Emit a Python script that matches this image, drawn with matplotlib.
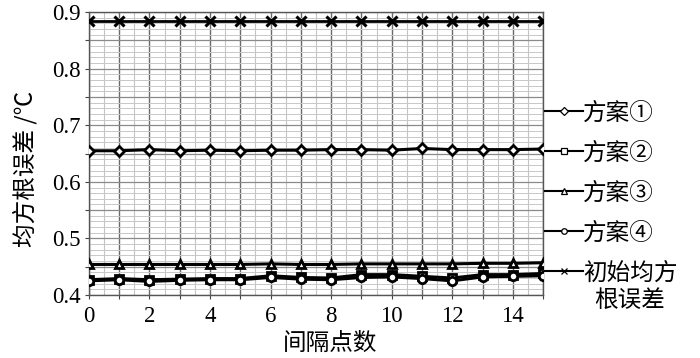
import matplotlib
matplotlib.use("Agg")
import matplotlib.pyplot as plt
from matplotlib.lines import Line2D
from matplotlib.ticker import MultipleLocator
from matplotlib.font_manager import FontProperties

FAM = ['Noto Sans CJK SC', 'DejaVu Sans']
plt.rcParams['font.family'] = FAM

x = list(range(16))
scheme1 = [0.655, 0.655, 0.657, 0.655, 0.656, 0.655, 0.656, 0.656, 0.657, 0.657, 0.656, 0.659, 0.657, 0.657, 0.657, 0.658]
scheme2 = [0.427, 0.429, 0.427, 0.428, 0.429, 0.429, 0.434, 0.431, 0.430, 0.436, 0.436, 0.433, 0.430, 0.436, 0.436, 0.438]
scheme3 = [0.454, 0.454, 0.454, 0.454, 0.454, 0.454, 0.455, 0.454, 0.454, 0.455, 0.455, 0.455, 0.455, 0.456, 0.456, 0.457]
scheme4 = [0.425, 0.427, 0.424, 0.426, 0.427, 0.427, 0.431, 0.428, 0.427, 0.431, 0.432, 0.429, 0.425, 0.432, 0.433, 0.434]
initial = [0.884] * 16

labels = ['方案①', '方案②', '方案③', '方案④', '初始均方']
label_extra = '根误差'
markers = ['D', 's', '^', 'o', 'x']
series = [scheme1, scheme2, scheme3, scheme4, initial]

xticks = list(range(16))
xtick_labels = [str(v) if v % 2 == 0 else '' for v in xticks]
yticks = [0.4, 0.45, 0.5, 0.55, 0.6, 0.65, 0.7, 0.75, 0.8, 0.85, 0.9]
ytick_labels = ['0.4', '', '0.5', '', '0.6', '', '0.7', '', '0.8', '', '0.9']

tick_fp = FontProperties(family='Liberation Serif', size=16.5)
text_fp = FontProperties(family=FAM, size=17)

fig = plt.figure(figsize=(7.0, 3.58), dpi=100)
ax = fig.add_axes([0.127, 0.176, 0.649, 0.790])

for ys, m in zip(series, markers):
    if m == 'x':
        ax.plot(x, ys, color='black', lw=2.0, marker='x', ms=7, mew=2.2, zorder=5)
    else:
        ax.plot(x, ys, color='black', lw=2.2, marker=m, ms=6 if m != 'D' else 5.5,
                mfc='white', mec='black', mew=2.0, zorder=5)

ax.set_xlim(0, 15)
ax.set_ylim(0.4, 0.9)
ax.set_xticks(xticks)
ax.set_xticklabels(xtick_labels, fontproperties=tick_fp)
ax.set_yticks(yticks)
ax.set_yticklabels(ytick_labels, fontproperties=tick_fp)
ax.xaxis.set_minor_locator(MultipleLocator(0.5))
ax.yaxis.set_minor_locator(MultipleLocator(0.01))
ax.grid(which='major', axis='x', color='#6a6a6a', lw=1.0)
ax.grid(which='minor', axis='x', color='#c4c4c4', lw=0.8)
ax.grid(which='major', axis='y', color='#8a8a8a', lw=0.9)
ax.grid(which='minor', axis='y', color='#c8c8c8', lw=0.7)
ax.set_axisbelow(True)
ax.tick_params(which='major', direction='out', length=3, width=0.8, color='#444444')
ax.tick_params(axis='x', which='major', pad=5)
ax.tick_params(axis='y', which='major', pad=3)
ax.tick_params(which='minor', length=0)
for s in ax.spines.values():
    s.set_color('#555555')
    s.set_linewidth(1.0)

ax.set_xlabel('间隔点数', fontproperties=text_fp)
ax.set_ylabel('均方根误差 /℃', fontproperties=text_fp)
ax.xaxis.set_label_coords(0.531, -0.132)
ax.yaxis.set_label_coords(-0.114, 0.445)

handles = [Line2D([], [], color='black', lw=1.5, marker=m, ms=4, mfc='white', mec='black', mew=0.9)
           for m in markers]
leg = ax.legend(handles, labels, loc='center left', bbox_to_anchor=(1.004, 0.360),
                frameon=False, prop=text_fp, handlelength=1.6, handletextpad=0.0,
                borderaxespad=0.0, borderpad=0.0, labelspacing=0.72)

fig.canvas.draw()
t = leg.get_texts()[-1]
bb = t.get_window_extent()
cx = (bb.x0 + bb.x1) / 2
fig.text(cx / fig.bbox.width, (bb.y0 - 4) / fig.bbox.height, label_extra,
         fontproperties=text_fp, ha='center', va='top')

fig.savefig('out.png', dpi=100)
